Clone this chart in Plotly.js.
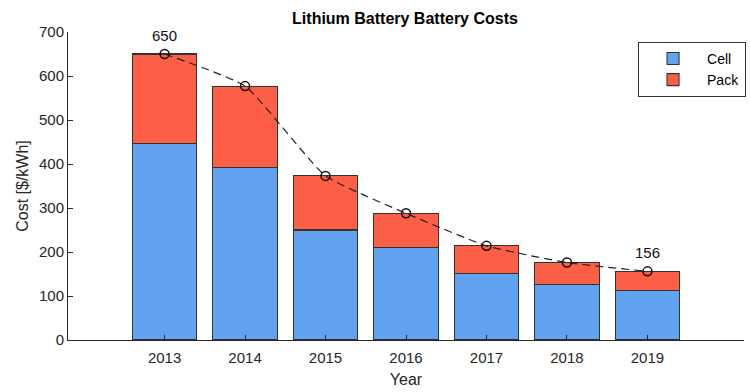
<!DOCTYPE html>
<html><head><meta charset="utf-8">
<script src="https://cdn.plot.ly/plotly-3.0.1.min.js"></script>
<style>html,body{margin:0;padding:0;background:#fff}#chart{width:750px;height:392px}</style>
</head><body><div id="chart"></div>
<script>
const years = [2013, 2014, 2015, 2016, 2017, 2018, 2019];
const cellCost = [447, 393, 250, 210, 152, 127, 112];
const packCost = [203, 184, 123, 78, 62, 49, 44];
const totalCost = [650, 577, 373, 288, 214, 176, 156];
const yTicks = [0, 100, 200, 300, 400, 500, 600, 700];

const fam = 'Liberation Sans, Arial, sans-serif';
const font = {family: fam, size: 15, color: '#262626'};
const edge = {color: '#333', width: 1.1};

const traces = [
  {type: 'bar', name: 'Cell', x: years, y: cellCost, width: 0.8,
   marker: {color: '#61A2F1', line: edge}, hoverinfo: 'skip'},
  {type: 'bar', name: 'Pack', x: years, y: packCost, width: 0.8,
   marker: {color: '#FD5E46', line: edge}, hoverinfo: 'skip'},
  {type: 'scatter', mode: 'lines+markers', x: years, y: totalCost, showlegend: false,
   line: {color: '#222', width: 1.2, dash: '8px,5px', shape: 'spline', smoothing: 0.45},
   marker: {symbol: 'circle-open', size: 9, color: '#111', line: {width: 1.5}}}
];

const layout = {
  width: 750, height: 392,
  margin: {l: 68, r: 5, t: 32, b: 52},
  paper_bgcolor: '#fff', plot_bgcolor: '#fff',
  barmode: 'stack',
  font: font,
  title: {text: '<b>Lithium Battery Battery Costs</b>', x: 0.54, xanchor: 'center', y: 0.952, yanchor: 'middle',
          font: {family: fam, size: 16, color: '#000'}},
  xaxis: {range: [2011.8, 2020.2], tickvals: years, ticktext: years.map(String),
          showline: true, linecolor: '#262626', linewidth: 1, ticks: 'inside', ticklen: 5,
          tickcolor: '#262626', showgrid: false, zeroline: false, ticklabelstandoff: 4,
          tickfont: {size: 15},
          title: {text: 'Year', font: {size: 16, color: '#262626'}, standoff: 8}},
  yaxis: {range: [0, 700], tickvals: yTicks, showline: true, linecolor: '#262626', linewidth: 1,
          ticks: 'inside', ticklen: 5, tickcolor: '#262626', showgrid: false, zeroline: false,
          tickfont: {size: 15},
          title: {text: 'Cost [$/kWh]', font: {size: 16, color: '#262626'}, standoff: 6}},
  legend: {x: 0.842, y: 0.968, xanchor: 'left', yanchor: 'top', bgcolor: '#fff',
           bordercolor: '#333', borderwidth: 1, traceorder: 'normal', tracegroupgap: 0,
           font: {size: 14, color: '#000'}, itemwidth: 58},
  annotations: [
    {x: years[0], y: totalCost[0], text: String(totalCost[0]), showarrow: false, yshift: 19, font: {size: 15, color: '#111'}},
    {x: years[6], y: totalCost[6], text: String(totalCost[6]), showarrow: false, yshift: 19, font: {size: 15, color: '#111'}}
  ]
};
Plotly.newPlot('chart', traces, layout, {displayModeBar: false, staticPlot: true});
</script></body></html>
